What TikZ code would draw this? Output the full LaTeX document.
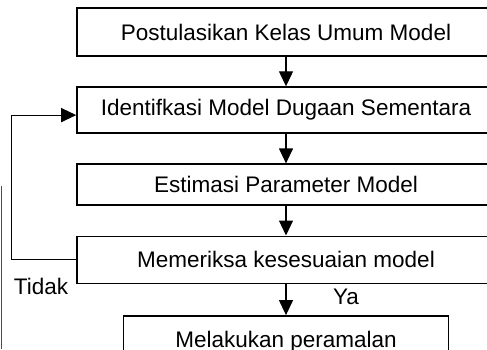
\documentclass[tikz,border=0pt]{standalone}
\usepackage{fontspec}
\setmainfont{Liberation Sans}
\usetikzlibrary{arrows.meta,positioning}

\begin{document}
\begin{tikzpicture}[x=1pt, y=1pt, >={Triangle[length=15pt,width=14pt]},
    font=\fontsize{22.5}{27}\selectfont, node distance=29.5pt,
    stepbox/.style={draw, line width=1.6pt, minimum width=418pt, inner sep=0pt},
    flow/.style={->, line width=1.2pt}]
  \useasboundingbox (0,0) rectangle (487,-349);
  \clip (0,0) rectangle (487,-349);

  \node[stepbox, minimum height=48pt] (postulat) at (286,-32) {Postulasikan Kelas Umum Model};
  \node[stepbox, minimum height=46pt, below=of postulat] (identif) {Identifkasi Model Dugaan Sementara};
  \node[stepbox, minimum height=41pt, below=of identif] (estimasi) {Estimasi Parameter Model};
  \node[stepbox, minimum height=47pt, below=of estimasi] (periksa) {Memeriksa kesesuaian model};
  \node[stepbox, minimum height=52pt, minimum width=325pt, below=31pt of periksa] (ramal) {Melakukan peramalan};

  \draw[flow] (postulat) -- (identif);
  \draw[flow] (identif) -- (estimasi);
  \draw[flow] (estimasi) -- (periksa);
  \draw[flow] (periksa) -- (ramal);
  % model tidak sesuai: kembali ke identifikasi
  \draw[flow] (periksa.west) -- ++(-65,0) |- ([yshift=-5pt]identif.west);

  \node (tidak) at (41,-286) {Tidak};
  \node (ya) at (346,-297) {Ya};

  \draw[red, line width=1.4pt] (1.5,-186) -- (1.5,-349);
\end{tikzpicture}
\end{document}
